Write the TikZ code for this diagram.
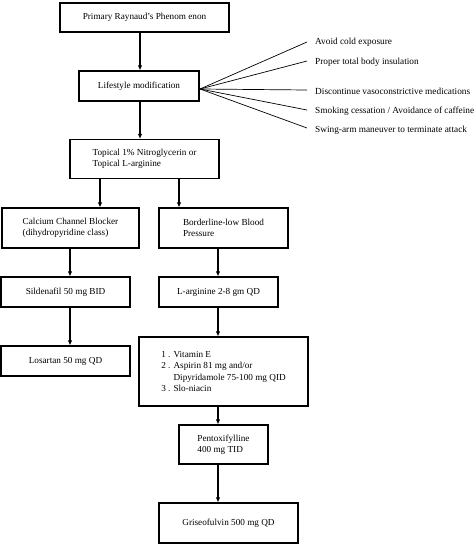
\documentclass[tikz,border=0pt]{standalone}
\usepackage{fontspec}
\setmainfont{Liberation Serif}
\usetikzlibrary{arrows.meta}
\begin{document}
\begin{tikzpicture}[x=1pt,y=-1pt,
  box/.style={draw, line width=1.2pt, inner sep=0pt, align=left, font=\fontsize{9.2}{11.2}\selectfont},
  arr/.style={line width=1.2pt, -{Latex[length=5pt,width=4.5pt]}},
  fan/.style={line width=0.7pt},
  lab/.style={anchor=west, inner sep=0pt, font=\fontsize{9.3}{11}\selectfont}]
\useasboundingbox (0,0) rectangle (474,554);
\node[box, minimum width=169pt, minimum height=29pt] (b1) at (144.5,17.5) {Primary Raynaud’s Phenom enon};
\node[box, minimum width=120pt, minimum height=30pt] (b2) at (139,86) {Lifestyle modification};
\node[box, minimum width=149pt, minimum height=39pt] (b3) at (144.5,159) {Topical 1\% Nitroglycerin or\\Topical L-arginine};
\node[box, minimum width=137pt, minimum height=40pt] (b4) at (70.5,228) {Calcium Channel Blocker\\(dihydropyridine class)};
\node[box, minimum width=129pt, minimum height=40pt] (b5) at (223.5,228) {Borderline-low Blood\\Pressure};
\node[box, minimum width=129pt, minimum height=30pt] (b6) at (65.5,292) {Sildenafil 50 mg BID};
\node[box, minimum width=119pt, minimum height=30pt] (b7) at (218.5,292) {L-arginine 2-8 gm QD};
\node[box, minimum width=129pt, minimum height=30pt] (b8) at (65.5,361) {Losartan 50 mg QD};
\node[box, minimum width=169pt, minimum height=69pt] (b9) at (223.5,371.5) {1 . Vitamin E\\2 . Aspirin 81 mg and/or\\\phantom{2 . }Dipyridamole 75-100 mg QID\\3 . Slo-niacin};
\node[box, minimum width=89pt, minimum height=39pt] (b10) at (223.5,444.5) {Pentoxifylline\\400 mg TID};
\node[box, minimum width=139pt, minimum height=40pt] (b11) at (228.5,523) {Griseofulvin 500 mg QD};

\draw[arr] (b1.south -| 140,0) -- (b2.north -| 140,0);
\draw[arr] (b2.south -| 140,0) -- (b3.north -| 140,0);
\draw[arr] (b3.south -| 100,0) -- (b4.north -| 100,0);
\draw[arr] (b3.south -| 179,0) -- (b5.north -| 179,0);
\draw[arr] (b4.south -| 70,0) -- (b6.north -| 70,0);
\draw[arr] (b5.south -| 218,0) -- (b7.north -| 218,0);
\draw[arr] (b6.south -| 70,0) -- (b8.north -| 70,0);
\draw[arr] (b7.south -| 218,0) -- (b9.north -| 218,0);
\draw[arr] (b9.south -| 218,0) -- (b10.north -| 218,0);
\draw[arr] (b10.south -| 218,0) -- (b11.north -| 218,0);

\coordinate (apex) at (200,89);
\coordinate (e1) at (307,42);
\coordinate (e2) at (307,61);
\coordinate (e3) at (307,90);
\coordinate (e4) at (307,110);
\coordinate (e5) at (307,128);
\foreach \i in {1,...,5} \draw[fan] (apex) -- (e\i);
\node[lab] (t1) at (315,42) {Avoid cold exposure};
\node[lab] (t2) at (315,62) {Proper total body insulation};
\node[lab] (t3) at (315,91) {Discontinue vasoconstrictive medications};
\node[lab] (t4) at (315,111) {Smoking cessation / Avoidance of caffeine};
\node[lab] (t5) at (315,130) {Swing-arm maneuver to terminate attack};
\end{tikzpicture}
\end{document}
